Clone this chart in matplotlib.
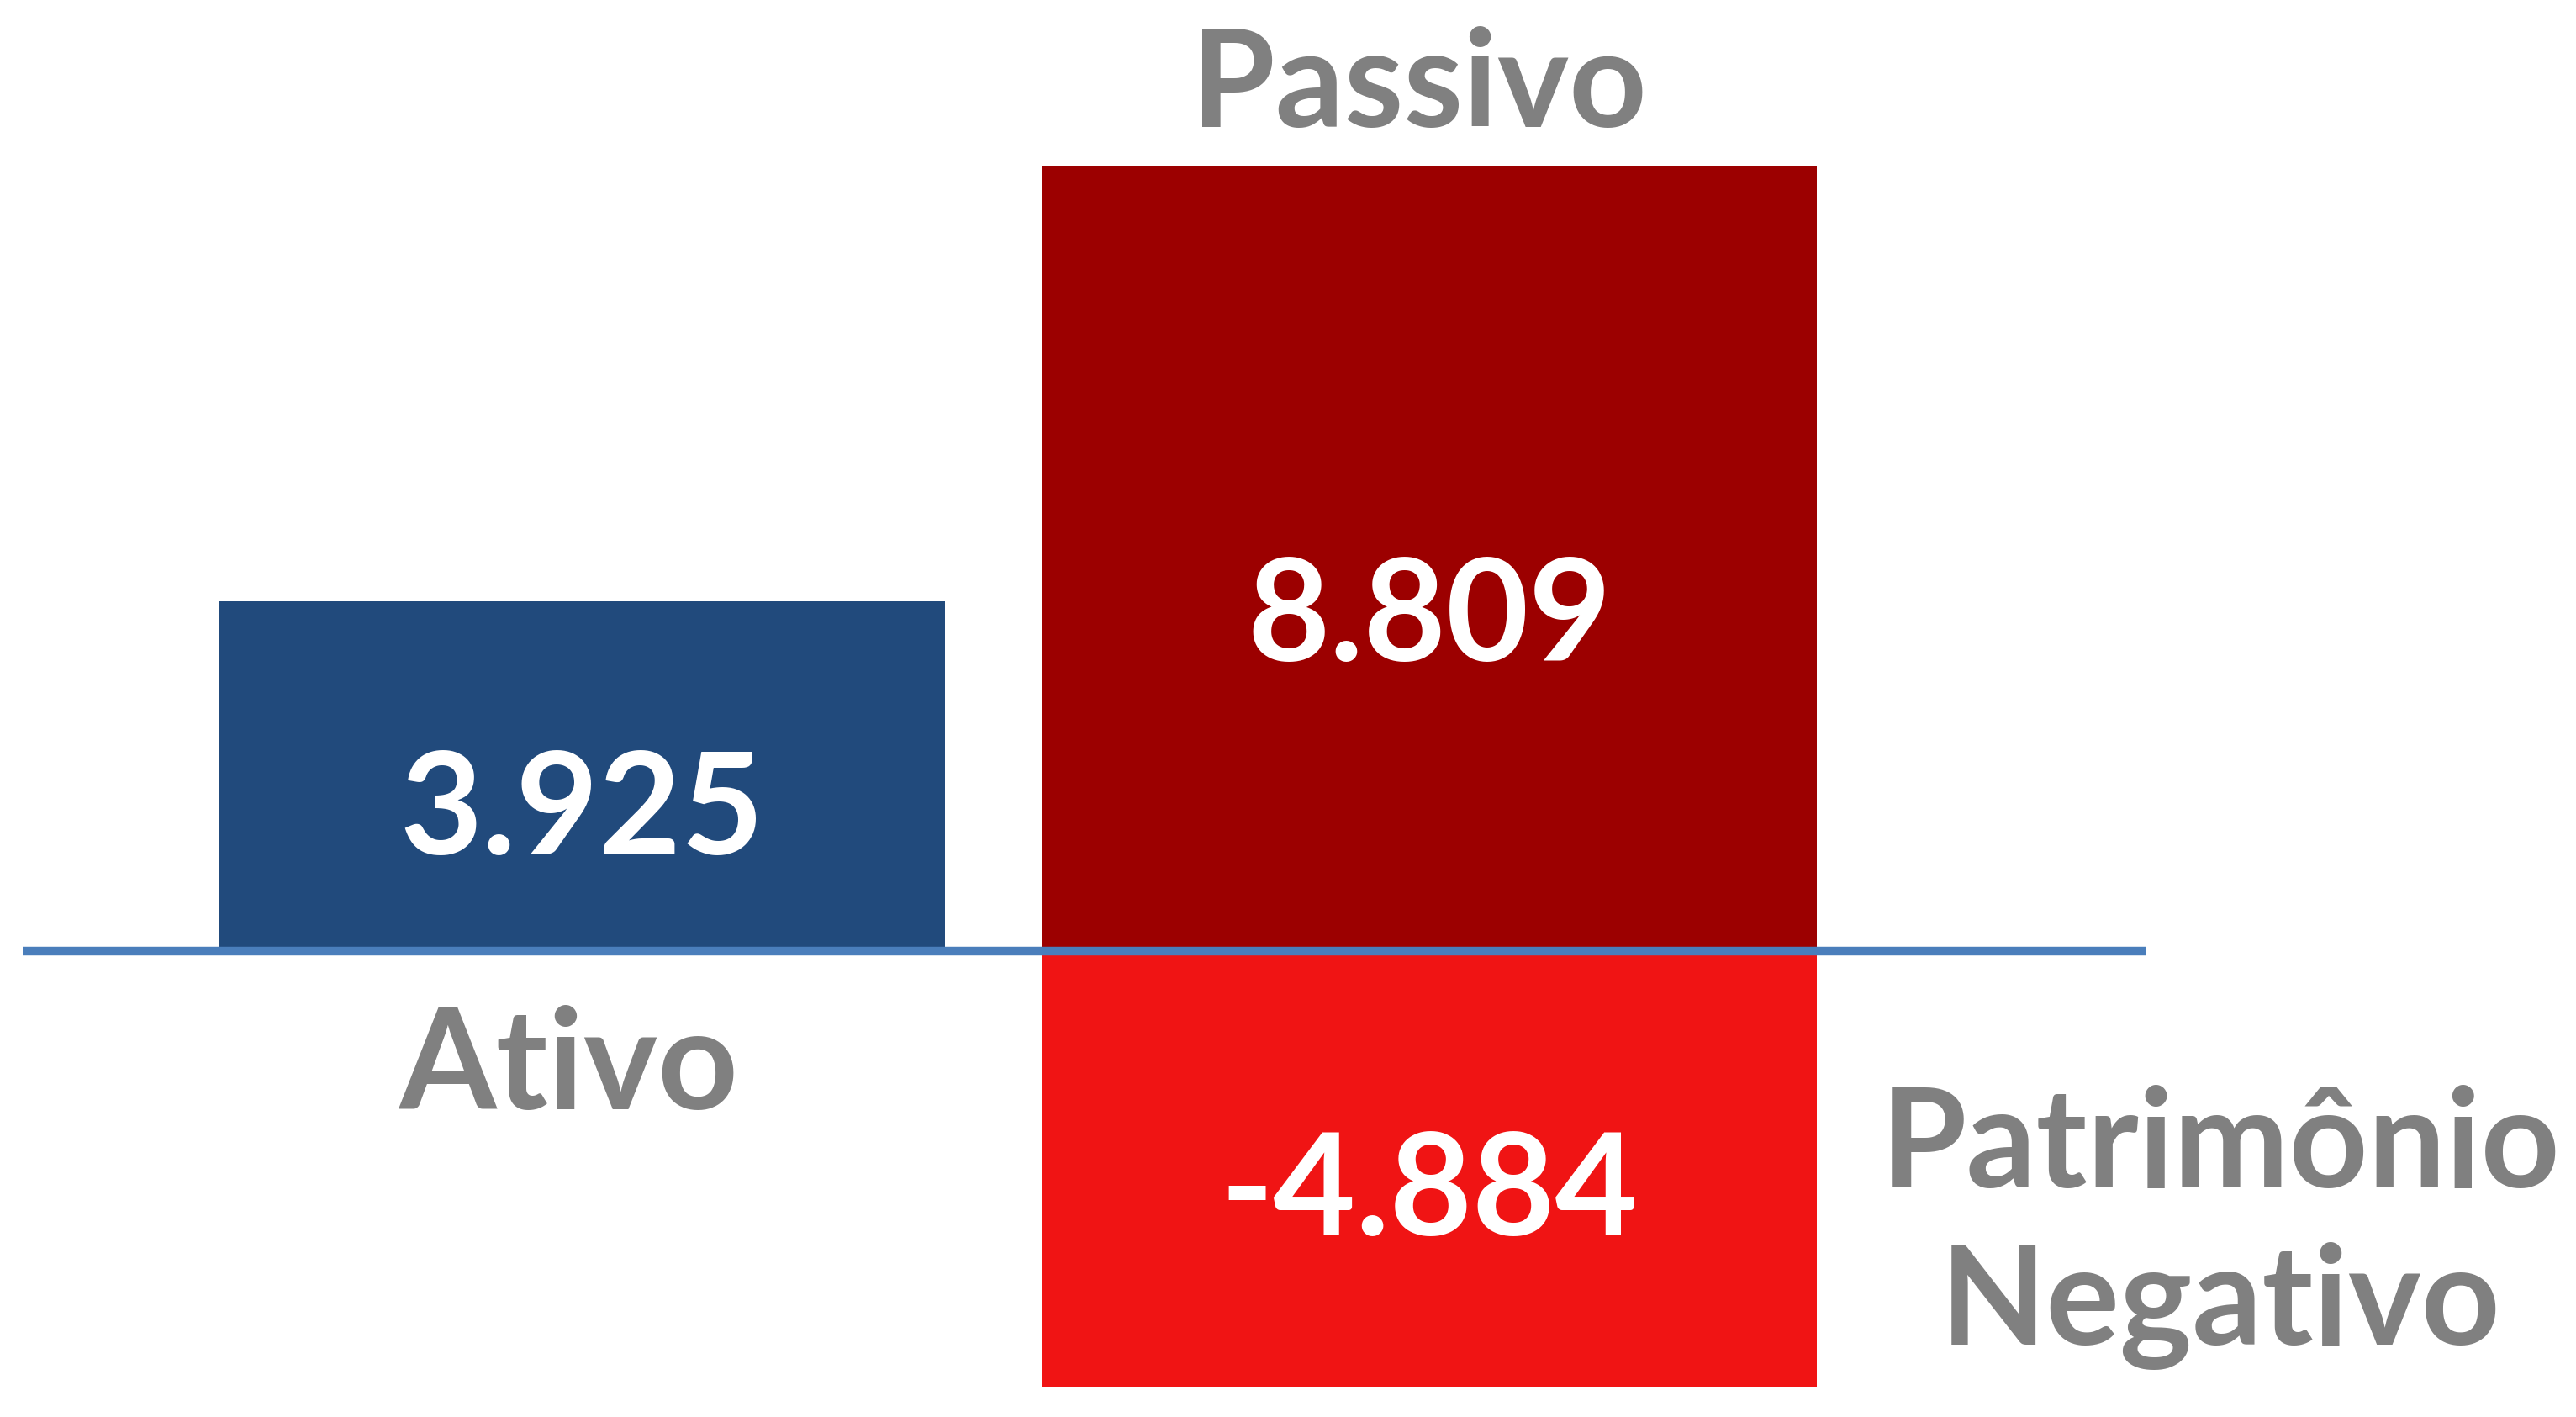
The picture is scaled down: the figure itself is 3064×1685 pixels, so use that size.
import matplotlib
matplotlib.use("Agg")
import matplotlib.pyplot as plt

# ---- data ----
categories = ["Ativo", "Passivo", "Patrimônio\nNegativo"]
values = [3.925, 8.809, -4.884]
value_labels = ["3.925", "8.809", "-4.884"]
bar_slots = [0, 1, 1]

# ---- style ----
colors = ["#214A7C", "#9C0000", "#F01414"]
widths = [0.857, 0.915, 0.915]
label_frac = [0.276, 0.369, 0.653]   # baseline of value label as fraction of bar
gray = "#808080"
font = "Lato"

fig = plt.figure(figsize=(30.64, 16.85), dpi=100)
ax = fig.add_axes([0, 0, 1, 1])
ax.set_xlim(-0.6865, 2.353)
ax.set_ylim(-5.226, 10.67)
ax.axis("off")

ax.bar(bar_slots, values, width=widths, color=colors, zorder=2, linewidth=0)
ax.axhline(0, xmin=0.0088, xmax=0.833, color="#4A7EBB", linewidth=7.5,
           solid_capstyle="butt", zorder=3)

for x, v, lab, f in zip(bar_slots, values, value_labels, label_frac):
    ax.text(x, v * f, lab, ha="center", va="baseline", color="white",
            fontsize=122, fontweight="bold", family=font, zorder=4)

# category labels
ax.text(-0.015, -1.77, categories[0], ha="center", va="baseline", color=gray,
        fontsize=120, fontweight="bold", family=font)
ax.text(0.988, 9.25, categories[1], ha="center", va="baseline", color=gray,
        fontsize=116, fontweight="bold", family=font)
ax.text(1.934, -4.41, categories[2], ha="center", va="baseline", color=gray,
        fontsize=118, fontweight="bold", family=font, linespacing=1.3,
        multialignment="center")

fig.savefig("out.png", dpi=100, facecolor="white")
